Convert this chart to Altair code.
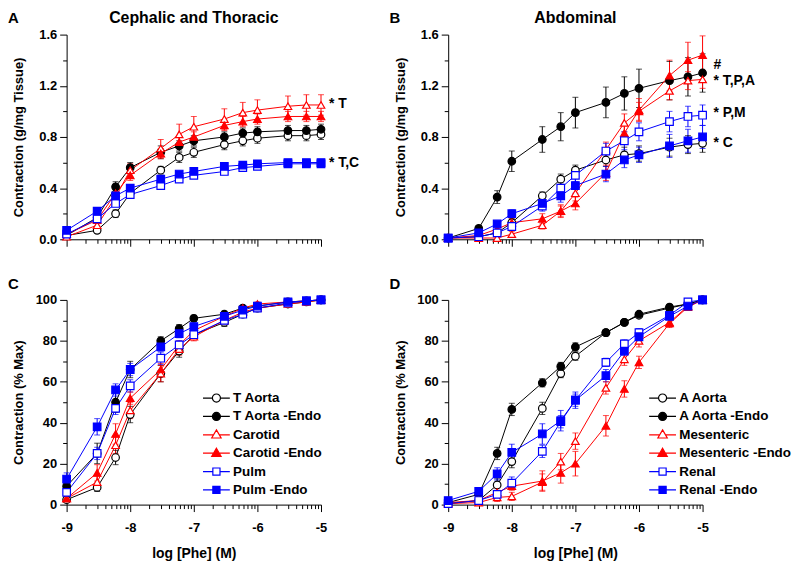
import math
import altair as alt
import pandas as pd

FONT = "Liberation Sans"

# log [Phe] (M) concentrations
LOG_PHE = [-9, -8.52, -8.23, -8, -7.52, -7.23, -7, -6.52, -6.23, -6, -5.52, -5.23, -5]

CT_NAMES = ["T Aorta", "T Aorta -Endo", "Carotid", "Carotid -Endo", "Pulm", "Pulm -Endo"]
AB_NAMES = ["A Aorta", "A Aorta -Endo", "Mesenteric", "Mesenteric -Endo", "Renal", "Renal -Endo"]

# ---- Panel A: Cephalic and Thoracic, g/mg tissue ----
A_VALS = [
    [0.03, 0.07, 0.20, 0.36, 0.54, 0.64, 0.68, 0.74, 0.77, 0.79, 0.81, 0.81, 0.82],
    [0.03, 0.17, 0.41, 0.56, 0.68, 0.73, 0.77, 0.80, 0.83, 0.84, 0.85, 0.85, 0.86],
    [0.02, 0.11, 0.33, 0.54, 0.71, 0.82, 0.88, 0.94, 0.99, 1.01, 1.04, 1.05, 1.05],
    [0.04, 0.15, 0.36, 0.50, 0.67, 0.76, 0.80, 0.89, 0.92, 0.94, 0.96, 0.96, 0.96],
    [0.04, 0.16, 0.28, 0.35, 0.42, 0.47, 0.50, 0.53, 0.56, 0.57, 0.59, 0.59, 0.59],
    [0.07, 0.22, 0.34, 0.40, 0.47, 0.51, 0.53, 0.57, 0.58, 0.59, 0.60, 0.60, 0.60],
]
A_ERRS = [
    [0.01, 0.02, 0.03, 0.03, 0.03, 0.04, 0.04, 0.04, 0.04, 0.04, 0.04, 0.04, 0.04],
    [0.01, 0.02, 0.04, 0.04, 0.05, 0.04, 0.04, 0.04, 0.04, 0.04, 0.04, 0.04, 0.04],
    [0.01, 0.02, 0.04, 0.05, 0.07, 0.08, 0.08, 0.08, 0.08, 0.08, 0.08, 0.08, 0.08],
    [0.01, 0.02, 0.03, 0.04, 0.04, 0.04, 0.04, 0.04, 0.04, 0.04, 0.04, 0.04, 0.04],
    [0.01, 0.02, 0.02, 0.02, 0.02, 0.02, 0.02, 0.02, 0.02, 0.02, 0.02, 0.02, 0.02],
    [0.01, 0.02, 0.02, 0.02, 0.02, 0.02, 0.02, 0.02, 0.02, 0.02, 0.02, 0.02, 0.02],
]
A_NOTES = ["* T", "* T,C"]
A_NOTE_Y = [1.06, 0.60]

# ---- Panel B: Abdominal, g/mg tissue ----
B_VALS = [
    [0.01, 0.02, 0.05, 0.13, 0.34, 0.47, 0.54, 0.62, 0.66, 0.67, 0.72, 0.74, 0.75],
    [0.01, 0.085, 0.33, 0.61, 0.78, 0.88, 0.99, 1.07, 1.14, 1.18, 1.24, 1.27, 1.30],
    [0.01, 0.01, 0.01, 0.04, 0.11, 0.22, 0.36, 0.70, 0.91, 1.00, 1.16, 1.24, 1.25],
    [0.01, 0.03, 0.08, 0.13, 0.16, 0.22, 0.28, 0.52, 0.83, 1.01, 1.28, 1.40, 1.44],
    [0.01, 0.02, 0.05, 0.10, 0.26, 0.40, 0.50, 0.69, 0.77, 0.84, 0.92, 0.96, 0.97],
    [0.01, 0.05, 0.12, 0.20, 0.28, 0.34, 0.42, 0.51, 0.62, 0.66, 0.73, 0.77, 0.80],
]
B_ERRS = [
    [0.01, 0.01, 0.02, 0.03, 0.03, 0.04, 0.04, 0.05, 0.06, 0.06, 0.07, 0.07, 0.07],
    [0.01, 0.02, 0.05, 0.08, 0.10, 0.11, 0.12, 0.12, 0.13, 0.15, 0.15, 0.15, 0.15],
    [0.01, 0.01, 0.01, 0.02, 0.03, 0.05, 0.06, 0.06, 0.07, 0.07, 0.07, 0.07, 0.07],
    [0.01, 0.01, 0.02, 0.03, 0.04, 0.04, 0.05, 0.06, 0.07, 0.09, 0.12, 0.14, 0.15],
    [0.01, 0.01, 0.02, 0.03, 0.04, 0.05, 0.05, 0.06, 0.07, 0.07, 0.08, 0.08, 0.08],
    [0.01, 0.01, 0.02, 0.03, 0.04, 0.05, 0.06, 0.06, 0.06, 0.06, 0.09, 0.09, 0.09],
]
B_NOTES = ["#", "* T,P,A", "* P,M", "* C"]
B_NOTE_Y = [1.36, 1.24, 0.99, 0.75]

# ---- Panel C: Cephalic and Thoracic, % max ----
C_VALS = [
    [2.4, 8.4, 23, 44, 64, 75, 83, 89, 93, 96, 98, 99, 100],
    [9, 25, 50, 66, 80, 86, 91, 93, 96, 97, 99, 99.5, 100],
    [3, 11, 29, 46, 64, 76, 82, 90, 94, 96, 98, 99, 100],
    [3, 15.5, 34.5, 52, 66, 78, 85, 92, 96, 98, 99, 99.5, 100],
    [6, 25, 47, 58, 71.5, 78, 83, 90, 93, 96, 98.5, 99.5, 100],
    [12.5, 38, 56, 66, 77, 83.5, 87, 92, 95, 97, 99, 99.5, 100],
]
C_ERRS = [
    [1, 2, 3.5, 4, 4, 3, 2, 2, 1.5, 1, 1, 0.5, 0],
    [2, 5, 5, 4, 2, 2, 1.5, 1.5, 1, 1, 0.5, 0.5, 0],
    [1, 3, 4, 4, 4, 3, 2, 2, 1.5, 1, 1, 0.5, 0],
    [1, 4, 5, 3, 3, 2, 2, 1.5, 1, 1, 0.5, 0.5, 0],
    [2, 3, 3, 3, 3, 2, 2, 1.5, 1, 1, 0.5, 0.5, 0],
    [3, 4, 3, 3, 2, 2, 1.5, 1, 1, 1, 0.5, 0.5, 0],
]

# ---- Panel D: Abdominal, % max ----
D_VALS = [
    [0.5, 2, 9.6, 21, 47, 64, 72.5, 84, 89, 92.5, 96, 98, 100],
    [1, 5, 25, 46.5, 59.5, 67.5, 77, 84, 89, 93, 96.5, 98, 100],
    [0.5, 1, 3.5, 4, 11, 21, 31, 57, 71, 80, 89, 97, 100],
    [1, 2, 6, 9, 11.5, 15.5, 20, 38.5, 56.5, 69.5, 88.5, 96.5, 100],
    [0.5, 2, 5, 10.5, 26, 40.5, 51, 69.5, 78.5, 84, 92.5, 99, 100],
    [2, 6.5, 15, 25.5, 34.5, 41, 51, 63, 75, 82, 92, 97, 100],
]
D_ERRS = [
    [0.5, 1, 3, 3, 3, 2, 2, 1.5, 1, 1, 1, 0.5, 0],
    [1, 2, 3, 3, 2, 2, 2, 1.5, 1, 1, 1, 0.5, 0],
    [0.5, 1, 2, 2, 4, 4, 4, 3, 3, 3, 2, 1, 0],
    [1, 1, 2, 2, 5, 5, 6, 5, 4, 3, 2, 1, 0],
    [0.5, 1, 2, 3, 3, 3, 3, 2, 2, 2, 1.5, 1, 0],
    [1, 1.5, 3, 4, 5, 5, 4, 3, 2, 2, 1.5, 1, 0],
]

# ---- styles ----
LINE_COLORS = ["#000000", "#000000", "#ff0000", "#ff0000", "#0000ff", "#0000ff"]
FILL_COLORS = ["#ffffff", "#000000", "#ffffff", "#ff0000", "#ffffff", "#0000ff"]
SHAPES = ["circle", "circle", "triangle-up", "triangle-up", "square", "square"]
SIZES = [58, 58, 88, 88, 55, 55]
CIRC = "M-3,0L-0.9,0M0.9,0L3,0M0.9,0A0.9,0.9,0,1,1,-0.9,0A0.9,0.9,0,1,1,0.9,0Z"
TRI = "M-3,0L-0.62,0M0.62,0L3,0M0,-1.1L1.05,0.72L-1.05,0.72Z"
SQR = "M-3,0L-0.8,0M0.8,0L3,0M-0.8,-0.8L0.8,-0.8L0.8,0.8L-0.8,0.8Z"
LEGEND_SHAPES = [CIRC, CIRC, TRI, TRI, SQR, SQR]

W, H = 256, 206
MAJOR_X = "abs(datum.value - round(datum.value)) < 0.001"


def lookup_expr(names, values):
    expr = "'#ffffff'"
    for n, v in zip(reversed(names), reversed(values)):
        expr = f"datum.value === '{n}' ? '{v}' : ({expr})"
    return expr


def panel(names, vals, errs, ymax, ymajor, yminor, yfmt, ytitle, letter,
          title=None, notes=None, note_y=None, note_dx=8, show_x=False, legend_xy=None):
    rows = []
    for n, v, e in zip(names, vals, errs):
        for x, y, er in zip(LOG_PHE, v, e):
            rows.append({"series": n, "x": x, "y": y, "err": er, "lo": y - er, "hi": y + er})
    df = pd.DataFrame(rows)
    caps = pd.concat([df.assign(cap=df["lo"]), df.assign(cap=df["hi"])])
    caps = caps[caps["err"] > 0]

    xvals = [d + math.log10(k) for d in range(-9, -5) for k in range(1, 10)] + [-5]
    nmin = int(round(ymax / yminor))
    yvals = [round(i * yminor, 4) for i in range(nmin + 1)]
    major_y = f"abs(datum.value/{ymajor} - round(datum.value/{ymajor})) < 0.001"

    xscale = alt.Scale(domain=[-9, -5], nice=False, zero=False)
    yscale = alt.Scale(domain=[0, ymax], nice=False, zero=True)
    xaxis = alt.Axis(
        values=xvals,
        tickSize={"condition": {"test": MAJOR_X, "value": 7}, "value": 4},
        labels=show_x,
        labelExpr=f"{MAJOR_X} ? datum.value + '' : ''",
        labelFlush=False, labelOverlap=False, labelPadding=10,
        title="log [Phe] (M)" if show_x else None,
        titleFontSize=14, titleBaseline="middle", titleY=49,
    )
    yaxis = alt.Axis(
        values=yvals,
        tickSize={"condition": {"test": major_y, "value": 7}, "value": 4},
        labelExpr=f"{major_y} ? format(datum.value, '{yfmt}') : ''",
        labelOverlap=False, labelPadding=3,
        title=ytitle, titleFontSize=13, titleBaseline="middle", titleX=-48,
    )
    X = alt.X("x:Q", scale=xscale, axis=xaxis)
    cscale = alt.Scale(domain=names, range=LINE_COLORS)
    col = alt.Color("series:N", scale=cscale, legend=None)

    err = alt.Chart(df).mark_rule(strokeWidth=1).encode(
        x=X, y=alt.Y("lo:Q", scale=yscale, axis=yaxis), y2="hi:Q", color=col)
    cap = alt.Chart(caps).mark_tick(orient="horizontal", size=6, thickness=1).encode(
        x=X, y=alt.Y("cap:Q", scale=yscale, axis=yaxis), color=col)
    line = alt.Chart(df).mark_line(strokeWidth=1).encode(
        x=X, y=alt.Y("y:Q", scale=yscale, axis=yaxis), color=col)
    pts = alt.Chart(df).mark_point(strokeWidth=1.2, opacity=1).encode(
        x=X, y=alt.Y("y:Q", scale=yscale, axis=yaxis),
        shape=alt.Shape("series:N", scale=alt.Scale(domain=names, range=SHAPES), legend=None),
        fill=alt.Fill("series:N", scale=alt.Scale(domain=names, range=FILL_COLORS), legend=None),
        stroke=alt.Stroke("series:N", scale=alt.Scale(domain=names, range=LINE_COLORS), legend=None),
        size=alt.Size("series:N", scale=alt.Scale(domain=names, range=SIZES), legend=None),
    )
    layers = [err, cap, line, pts]

    if legend_xy is not None:
        leg = alt.Legend(
            title=None, orient="none", legendX=legend_xy[0], legendY=legend_xy[1],
            symbolSize=81, symbolStrokeWidth=1.2, labelFont=FONT, labelFontSize=13.5,
            labelFontWeight="bold", labelColor="black", labelOffset=10,
            rowPadding=3.5, padding=0,
            symbolFillColor=alt.ExprRef(expr=lookup_expr(names, FILL_COLORS)),
            symbolStrokeColor=alt.ExprRef(expr=lookup_expr(names, LINE_COLORS)),
        )
        dummy = alt.Chart(df).mark_point(opacity=0, filled=True, strokeWidth=1.2).encode(
            x=X, y=alt.Y("y:Q", scale=yscale, axis=yaxis),
            shape=alt.Shape("series:N", scale=alt.Scale(domain=names, range=LEGEND_SHAPES), legend=leg),
            fill=alt.Fill("series:N", scale=alt.Scale(domain=names, range=FILL_COLORS), legend=None),
            stroke=alt.Stroke("series:N", scale=alt.Scale(domain=names, range=LINE_COLORS), legend=None),
        )
        layers.append(dummy)

    if notes is not None:
        ndf = pd.DataFrame({"x": [LOG_PHE[-1]] * len(notes), "y": note_y, "label": notes})
        ann = alt.Chart(ndf).mark_text(
            align="left", baseline="middle", dx=note_dx, font=FONT, fontSize=14,
            fontWeight="bold", color="black").encode(
            x=X, y=alt.Y("y:Q", scale=yscale, axis=yaxis), text="label:N")
        layers.append(ann)

    let_y = -17 if title is not None else -16
    lt = alt.Chart(pd.DataFrame({"t": [letter]})).mark_text(
        align="left", baseline="middle", font=FONT, fontSize=15, fontWeight="bold",
        color="black").encode(x=alt.value(-59), y=alt.value(let_y), text="t:N")
    layers.append(lt)
    if title is not None:
        tt = alt.Chart(pd.DataFrame({"t": [title]})).mark_text(
            align="center", baseline="middle", font=FONT, fontSize=16, fontWeight="bold",
            color="black").encode(x=alt.value(W / 2), y=alt.value(-17), text="t:N")
        layers.append(tt)

    return alt.layer(*layers).resolve_scale(
        color="independent", shape="independent", fill="independent",
        stroke="independent", size="independent"
    ).properties(width=W, height=H)


pA = panel(CT_NAMES, A_VALS, A_ERRS, 1.6, 0.4, 0.2, ".1f", "Contraction (g/mg Tissue)", "A",
           title="Cephalic and Thoracic", notes=A_NOTES, note_y=A_NOTE_Y, note_dx=8)
pB = panel(AB_NAMES, B_VALS, B_ERRS, 1.6, 0.4, 0.2, ".1f", "Contraction (g/mg Tissue)", "B",
           title="Abdominal", notes=B_NOTES, note_y=B_NOTE_Y, note_dx=11)
pC = panel(CT_NAMES, C_VALS, C_ERRS, 100, 20, 10, "d", "Contraction (% Max)", "C",
           show_x=True, legend_xy=(144, 92))
pD = panel(AB_NAMES, D_VALS, D_ERRS, 100, 20, 10, "d", "Contraction (% Max)", "D",
           show_x=True, legend_xy=(209, 92))

chart = alt.concat(
    pA, pB, pC, pD, columns=2,
    spacing=alt.RowColnumber(row=61, column=128), bounds="flush",
).resolve_scale(
    color="independent", shape="independent", fill="independent",
    stroke="independent", size="independent",
).properties(padding=0, background="white").configure_view(stroke=None).configure_axis(
    grid=False, domainColor="black", domainWidth=1, tickColor="black", tickWidth=1,
    labelColor="black", titleColor="black", labelFont=FONT, titleFont=FONT,
    labelFontSize=13, labelFontWeight="bold", titleFontWeight="bold",
)

chart.save("out.html", embed_options={"renderer": "svg", "actions": False})
